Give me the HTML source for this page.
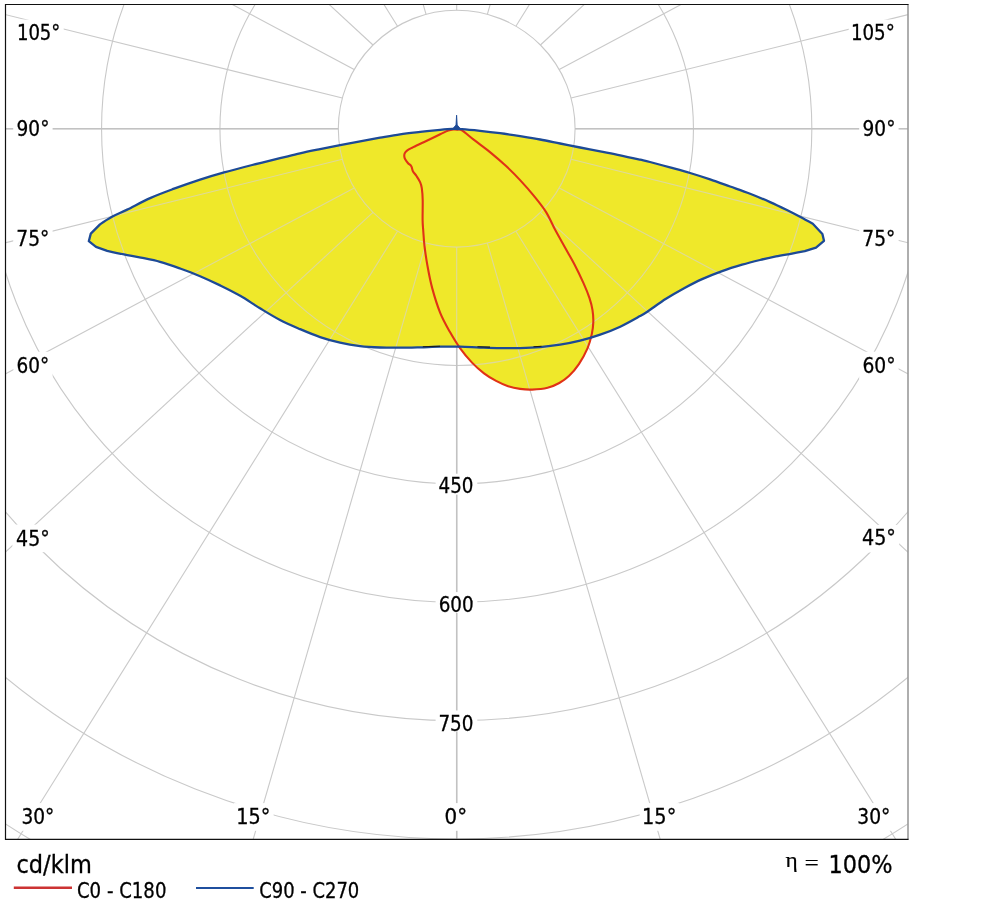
<!DOCTYPE html>
<html><head><meta charset="utf-8"><title>Polar diagram</title>
<style>
html,body{margin:0;padding:0;background:#fff;}
svg{display:block;}
text{font-family:"DejaVu Sans Condensed","DejaVu Sans","Liberation Sans",sans-serif;fill:#000;stroke:#000;stroke-width:0.28px;}
</style></head><body>
<svg width="999" height="912" viewBox="0 0 999 912">
<defs>
<clipPath id="frame"><rect x="5.5" y="4.5" width="902.5" height="834.8"/></clipPath>
<clipPath id="fillclip"><path d="M462.00,129.10C466.63,129.42 473.67,130.12 480.00,130.80C486.33,131.48 493.32,132.30 500.00,133.20C506.68,134.10 513.42,135.15 520.10,136.20C526.78,137.25 533.43,138.28 540.10,139.50C546.77,140.72 553.43,142.17 560.10,143.50C566.77,144.83 573.42,146.18 580.10,147.50C586.78,148.82 593.52,150.10 600.20,151.40C606.88,152.70 613.53,153.92 620.20,155.30C626.87,156.68 635.23,158.58 640.20,159.70C645.17,160.82 645.03,160.72 650.00,162.00C654.97,163.28 663.32,165.57 670.00,167.40C676.68,169.23 683.42,171.00 690.10,173.00C696.78,175.00 703.43,177.15 710.10,179.40C716.77,181.65 723.43,184.12 730.10,186.50C736.77,188.88 743.43,191.10 750.10,193.70C756.77,196.30 764.05,199.42 770.10,202.10C776.15,204.78 781.42,207.35 786.40,209.80C791.38,212.25 795.60,214.47 800.00,216.80C804.40,219.13 812.80,223.80 812.80,223.80C812.80,223.80 822.40,234.00 822.40,234.00C822.40,234.00 824.00,240.80 824.00,240.80C824.00,240.80 816.00,247.60 816.00,247.60C816.00,247.60 804.80,251.20 804.80,251.20C804.80,251.20 796.80,252.73 792.00,253.60C787.20,254.47 781.33,255.33 776.00,256.40C770.67,257.47 765.65,258.62 760.00,260.00C754.35,261.38 748.42,262.85 742.10,264.70C735.78,266.55 728.77,268.70 722.10,271.10C715.43,273.50 708.43,276.25 702.10,279.10C695.77,281.95 690.12,284.92 684.10,288.20C678.08,291.48 672.02,294.97 666.00,298.80C659.98,302.63 652.33,308.32 648.00,311.20C643.67,314.08 644.63,313.52 640.00,316.10C635.37,318.68 626.83,323.60 620.20,326.70C613.57,329.80 606.88,332.37 600.20,334.70C593.52,337.03 586.78,339.03 580.10,340.70C573.42,342.37 566.77,343.63 560.10,344.70C553.43,345.77 546.77,346.53 540.10,347.10C533.43,347.67 526.77,347.93 520.10,348.10C513.43,348.27 506.78,348.20 500.10,348.10C493.42,348.00 486.68,347.73 480.00,347.50C473.32,347.27 466.63,346.83 460.00,346.70C453.37,346.57 446.83,346.60 440.20,346.70C433.57,346.80 426.88,347.13 420.20,347.30C413.52,347.47 406.78,347.67 400.10,347.70C393.42,347.73 386.77,347.77 380.10,347.50C373.43,347.23 366.77,346.90 360.10,346.10C353.43,345.30 346.77,344.20 340.10,342.70C333.43,341.20 326.78,339.37 320.10,337.10C313.42,334.83 306.68,331.95 300.00,329.10C293.32,326.25 286.67,323.47 280.00,320.00C273.33,316.53 266.63,312.33 260.00,308.30C253.37,304.27 246.85,299.62 240.20,295.80C233.55,291.98 226.78,288.67 220.10,285.40C213.42,282.13 206.77,279.02 200.10,276.20C193.43,273.38 186.78,270.90 180.10,268.50C173.42,266.10 166.55,263.62 160.00,261.80C153.45,259.98 146.80,258.83 140.80,257.60C134.80,256.37 129.60,255.53 124.00,254.40C118.40,253.27 107.20,250.80 107.20,250.80C107.20,250.80 96.00,246.80 96.00,246.80C96.00,246.80 88.80,241.20 88.80,241.20C88.80,241.20 90.80,233.60 90.80,233.60C90.80,233.60 100.00,224.40 100.00,224.40C100.00,224.40 107.47,219.27 112.00,216.80C116.53,214.33 120.85,212.72 127.20,209.60C133.55,206.48 142.28,201.58 150.10,198.10C157.92,194.62 165.77,191.78 174.10,188.70C182.43,185.62 191.77,182.32 200.10,179.60C208.43,176.88 215.42,174.83 224.10,172.40C232.78,169.97 242.88,167.37 252.20,165.00C261.52,162.63 272.03,160.15 280.00,158.20C287.97,156.25 293.32,154.82 300.00,153.30C306.68,151.78 313.42,150.45 320.10,149.10C326.78,147.75 333.43,146.50 340.10,145.20C346.77,143.90 353.43,142.55 360.10,141.30C366.77,140.05 373.43,138.87 380.10,137.70C386.77,136.53 393.42,135.27 400.10,134.30C406.78,133.33 413.52,132.65 420.20,131.90C426.88,131.15 434.87,130.30 440.20,129.80C445.53,129.30 448.57,129.02 452.20,128.90C455.83,128.78 457.37,128.78 462.00,129.10Z"/><path d="M457.50,129.60C458.98,129.78 459.65,128.88 462.40,130.60C465.15,132.32 469.40,136.32 474.00,139.90C478.60,143.48 484.65,147.73 490.00,152.10C495.35,156.47 501.08,161.43 506.10,166.10C511.12,170.77 515.43,175.10 520.10,180.10C524.77,185.10 529.77,190.77 534.10,196.10C538.43,201.43 542.57,206.43 546.10,212.10C549.63,217.77 552.15,224.20 555.30,230.10C558.45,236.00 561.80,241.77 565.00,247.50C568.20,253.23 571.42,258.57 574.50,264.50C577.58,270.43 581.00,277.50 583.50,283.10C586.00,288.70 588.00,293.60 589.50,298.10C591.00,302.60 591.87,306.10 592.50,310.10C593.13,314.10 593.42,318.10 593.30,322.10C593.18,326.10 592.75,329.77 591.80,334.10C590.85,338.43 589.75,343.10 587.60,348.10C585.45,353.10 582.02,359.43 578.90,364.10C575.78,368.77 572.17,372.95 568.90,376.10C565.63,379.25 562.85,381.05 559.30,383.00C555.75,384.95 552.13,386.70 547.60,387.80C543.07,388.90 536.68,389.42 532.10,389.60C527.52,389.78 524.10,389.47 520.10,388.90C516.10,388.33 512.10,387.53 508.10,386.20C504.10,384.87 500.12,383.05 496.10,380.90C492.08,378.75 488.02,376.35 484.00,373.30C479.98,370.25 476.00,366.80 472.00,362.60C468.00,358.40 463.67,353.18 460.00,348.10C456.33,343.02 453.30,337.98 450.00,332.10C446.70,326.22 443.17,320.13 440.20,312.80C437.23,305.47 434.32,295.90 432.20,288.10C430.08,280.30 428.78,273.02 427.50,266.00C426.22,258.98 425.22,252.00 424.50,246.00C423.78,240.00 423.52,234.32 423.20,230.00C422.88,225.68 422.68,225.08 422.60,220.10C422.52,215.12 422.83,205.43 422.70,200.10C422.57,194.77 422.23,191.10 421.80,188.10C421.37,185.10 420.98,184.12 420.10,182.10C419.22,180.08 417.70,177.82 416.50,176.00C415.30,174.18 413.77,172.83 412.90,171.20C412.03,169.57 412.10,167.53 411.30,166.20C410.50,164.87 409.12,164.37 408.10,163.20C407.08,162.03 405.83,160.35 405.20,159.20C404.57,158.05 404.38,157.27 404.30,156.30C404.22,155.33 404.25,154.35 404.70,153.40C405.15,152.45 405.75,151.55 407.00,150.60C408.25,149.65 409.33,149.13 412.20,147.70C415.07,146.27 419.53,144.23 424.20,142.00C428.87,139.77 436.18,136.20 440.20,134.30C444.22,132.40 446.08,131.40 448.30,130.60C450.52,129.80 451.97,129.67 453.50,129.50C455.03,129.33 456.02,129.42 457.50,129.60Z"/></clipPath>
<g id="grid" fill="none" stroke-width="1.1">
<circle cx="456.70" cy="128.70" r="118.38"/>
<circle cx="456.70" cy="128.70" r="236.76"/>
<circle cx="456.70" cy="128.70" r="355.14"/>
<circle cx="456.70" cy="128.70" r="473.52"/>
<circle cx="456.70" cy="128.70" r="591.90"/>
<circle cx="456.70" cy="128.70" r="710.28"/>
<circle cx="456.70" cy="128.70" r="828.66"/>
<line x1="456.70" y1="247.08" x2="456.70" y2="1247.08"/>
<line x1="487.34" y1="243.05" x2="767.38" y2="1208.97"/>
<line x1="515.89" y1="231.22" x2="1056.89" y2="1097.25"/>
<line x1="540.41" y1="212.41" x2="1305.50" y2="919.51"/>
<line x1="559.22" y1="187.89" x2="1496.26" y2="687.89"/>
<line x1="571.05" y1="159.34" x2="1616.18" y2="418.16"/>
<line x1="575.08" y1="128.70" x2="1657.08" y2="128.70"/>
<line x1="571.05" y1="98.06" x2="1616.18" y2="-160.76"/>
<line x1="559.22" y1="69.51" x2="1496.26" y2="-430.49"/>
<line x1="540.41" y1="44.99" x2="1305.50" y2="-662.11"/>
<line x1="515.89" y1="26.18" x2="1056.89" y2="-839.85"/>
<line x1="487.34" y1="14.35" x2="767.38" y2="-951.57"/>
<line x1="456.70" y1="10.32" x2="456.70" y2="-989.68"/>
<line x1="426.06" y1="14.35" x2="146.02" y2="-951.57"/>
<line x1="397.51" y1="26.18" x2="-143.49" y2="-839.85"/>
<line x1="372.99" y1="44.99" x2="-392.10" y2="-662.11"/>
<line x1="354.18" y1="69.51" x2="-582.86" y2="-430.49"/>
<line x1="342.35" y1="98.06" x2="-702.78" y2="-160.76"/>
<line x1="338.32" y1="128.70" x2="-743.68" y2="128.70"/>
<line x1="342.35" y1="159.34" x2="-702.78" y2="418.16"/>
<line x1="354.18" y1="187.89" x2="-582.86" y2="687.89"/>
<line x1="372.99" y1="212.41" x2="-392.10" y2="919.51"/>
<line x1="397.51" y1="231.22" x2="-143.49" y2="1097.25"/>
<line x1="426.06" y1="243.05" x2="146.02" y2="1208.97"/>
</g>
</defs>
<rect width="999" height="912" fill="#fff"/>
<g clip-path="url(#frame)">
<use href="#grid" stroke="#c9c9c9"/>
<g fill="none" stroke="#c2c2c2" stroke-width="1.5"><line x1="456.70" y1="247.08" x2="456.70" y2="1247.08"/>
<line x1="575.08" y1="128.70" x2="1657.08" y2="128.70"/>
<line x1="338.32" y1="128.70" x2="-743.68" y2="128.70"/></g>
<path d="M462.00,129.10C466.63,129.42 473.67,130.12 480.00,130.80C486.33,131.48 493.32,132.30 500.00,133.20C506.68,134.10 513.42,135.15 520.10,136.20C526.78,137.25 533.43,138.28 540.10,139.50C546.77,140.72 553.43,142.17 560.10,143.50C566.77,144.83 573.42,146.18 580.10,147.50C586.78,148.82 593.52,150.10 600.20,151.40C606.88,152.70 613.53,153.92 620.20,155.30C626.87,156.68 635.23,158.58 640.20,159.70C645.17,160.82 645.03,160.72 650.00,162.00C654.97,163.28 663.32,165.57 670.00,167.40C676.68,169.23 683.42,171.00 690.10,173.00C696.78,175.00 703.43,177.15 710.10,179.40C716.77,181.65 723.43,184.12 730.10,186.50C736.77,188.88 743.43,191.10 750.10,193.70C756.77,196.30 764.05,199.42 770.10,202.10C776.15,204.78 781.42,207.35 786.40,209.80C791.38,212.25 795.60,214.47 800.00,216.80C804.40,219.13 812.80,223.80 812.80,223.80C812.80,223.80 822.40,234.00 822.40,234.00C822.40,234.00 824.00,240.80 824.00,240.80C824.00,240.80 816.00,247.60 816.00,247.60C816.00,247.60 804.80,251.20 804.80,251.20C804.80,251.20 796.80,252.73 792.00,253.60C787.20,254.47 781.33,255.33 776.00,256.40C770.67,257.47 765.65,258.62 760.00,260.00C754.35,261.38 748.42,262.85 742.10,264.70C735.78,266.55 728.77,268.70 722.10,271.10C715.43,273.50 708.43,276.25 702.10,279.10C695.77,281.95 690.12,284.92 684.10,288.20C678.08,291.48 672.02,294.97 666.00,298.80C659.98,302.63 652.33,308.32 648.00,311.20C643.67,314.08 644.63,313.52 640.00,316.10C635.37,318.68 626.83,323.60 620.20,326.70C613.57,329.80 606.88,332.37 600.20,334.70C593.52,337.03 586.78,339.03 580.10,340.70C573.42,342.37 566.77,343.63 560.10,344.70C553.43,345.77 546.77,346.53 540.10,347.10C533.43,347.67 526.77,347.93 520.10,348.10C513.43,348.27 506.78,348.20 500.10,348.10C493.42,348.00 486.68,347.73 480.00,347.50C473.32,347.27 466.63,346.83 460.00,346.70C453.37,346.57 446.83,346.60 440.20,346.70C433.57,346.80 426.88,347.13 420.20,347.30C413.52,347.47 406.78,347.67 400.10,347.70C393.42,347.73 386.77,347.77 380.10,347.50C373.43,347.23 366.77,346.90 360.10,346.10C353.43,345.30 346.77,344.20 340.10,342.70C333.43,341.20 326.78,339.37 320.10,337.10C313.42,334.83 306.68,331.95 300.00,329.10C293.32,326.25 286.67,323.47 280.00,320.00C273.33,316.53 266.63,312.33 260.00,308.30C253.37,304.27 246.85,299.62 240.20,295.80C233.55,291.98 226.78,288.67 220.10,285.40C213.42,282.13 206.77,279.02 200.10,276.20C193.43,273.38 186.78,270.90 180.10,268.50C173.42,266.10 166.55,263.62 160.00,261.80C153.45,259.98 146.80,258.83 140.80,257.60C134.80,256.37 129.60,255.53 124.00,254.40C118.40,253.27 107.20,250.80 107.20,250.80C107.20,250.80 96.00,246.80 96.00,246.80C96.00,246.80 88.80,241.20 88.80,241.20C88.80,241.20 90.80,233.60 90.80,233.60C90.80,233.60 100.00,224.40 100.00,224.40C100.00,224.40 107.47,219.27 112.00,216.80C116.53,214.33 120.85,212.72 127.20,209.60C133.55,206.48 142.28,201.58 150.10,198.10C157.92,194.62 165.77,191.78 174.10,188.70C182.43,185.62 191.77,182.32 200.10,179.60C208.43,176.88 215.42,174.83 224.10,172.40C232.78,169.97 242.88,167.37 252.20,165.00C261.52,162.63 272.03,160.15 280.00,158.20C287.97,156.25 293.32,154.82 300.00,153.30C306.68,151.78 313.42,150.45 320.10,149.10C326.78,147.75 333.43,146.50 340.10,145.20C346.77,143.90 353.43,142.55 360.10,141.30C366.77,140.05 373.43,138.87 380.10,137.70C386.77,136.53 393.42,135.27 400.10,134.30C406.78,133.33 413.52,132.65 420.20,131.90C426.88,131.15 434.87,130.30 440.20,129.80C445.53,129.30 448.57,129.02 452.20,128.90C455.83,128.78 457.37,128.78 462.00,129.10Z" fill="#efe82a"/>
<path d="M457.50,129.60C458.98,129.78 459.65,128.88 462.40,130.60C465.15,132.32 469.40,136.32 474.00,139.90C478.60,143.48 484.65,147.73 490.00,152.10C495.35,156.47 501.08,161.43 506.10,166.10C511.12,170.77 515.43,175.10 520.10,180.10C524.77,185.10 529.77,190.77 534.10,196.10C538.43,201.43 542.57,206.43 546.10,212.10C549.63,217.77 552.15,224.20 555.30,230.10C558.45,236.00 561.80,241.77 565.00,247.50C568.20,253.23 571.42,258.57 574.50,264.50C577.58,270.43 581.00,277.50 583.50,283.10C586.00,288.70 588.00,293.60 589.50,298.10C591.00,302.60 591.87,306.10 592.50,310.10C593.13,314.10 593.42,318.10 593.30,322.10C593.18,326.10 592.75,329.77 591.80,334.10C590.85,338.43 589.75,343.10 587.60,348.10C585.45,353.10 582.02,359.43 578.90,364.10C575.78,368.77 572.17,372.95 568.90,376.10C565.63,379.25 562.85,381.05 559.30,383.00C555.75,384.95 552.13,386.70 547.60,387.80C543.07,388.90 536.68,389.42 532.10,389.60C527.52,389.78 524.10,389.47 520.10,388.90C516.10,388.33 512.10,387.53 508.10,386.20C504.10,384.87 500.12,383.05 496.10,380.90C492.08,378.75 488.02,376.35 484.00,373.30C479.98,370.25 476.00,366.80 472.00,362.60C468.00,358.40 463.67,353.18 460.00,348.10C456.33,343.02 453.30,337.98 450.00,332.10C446.70,326.22 443.17,320.13 440.20,312.80C437.23,305.47 434.32,295.90 432.20,288.10C430.08,280.30 428.78,273.02 427.50,266.00C426.22,258.98 425.22,252.00 424.50,246.00C423.78,240.00 423.52,234.32 423.20,230.00C422.88,225.68 422.68,225.08 422.60,220.10C422.52,215.12 422.83,205.43 422.70,200.10C422.57,194.77 422.23,191.10 421.80,188.10C421.37,185.10 420.98,184.12 420.10,182.10C419.22,180.08 417.70,177.82 416.50,176.00C415.30,174.18 413.77,172.83 412.90,171.20C412.03,169.57 412.10,167.53 411.30,166.20C410.50,164.87 409.12,164.37 408.10,163.20C407.08,162.03 405.83,160.35 405.20,159.20C404.57,158.05 404.38,157.27 404.30,156.30C404.22,155.33 404.25,154.35 404.70,153.40C405.15,152.45 405.75,151.55 407.00,150.60C408.25,149.65 409.33,149.13 412.20,147.70C415.07,146.27 419.53,144.23 424.20,142.00C428.87,139.77 436.18,136.20 440.20,134.30C444.22,132.40 446.08,131.40 448.30,130.60C450.52,129.80 451.97,129.67 453.50,129.50C455.03,129.33 456.02,129.42 457.50,129.60Z" fill="#efe82a"/>
<g clip-path="url(#fillclip)"><use href="#grid" stroke="#dedA98" stroke-width="1.7"/></g>
<g fill="#fff">
<rect x="14.3" y="19.6" width="49.4" height="27.2"/>
<rect x="13.2" y="115.3" width="39.4" height="27.6"/>
<rect x="13.2" y="224.8" width="39.4" height="27.6"/>
<rect x="13.4" y="351.7" width="39.2" height="27.7"/>
<rect x="12.4" y="524.6" width="40.5" height="27.6"/>
<rect x="18.3" y="803.1" width="39.3" height="27.7"/>
<rect x="233.9" y="803.1" width="39.7" height="27.7"/>
<rect x="441.6" y="803.1" width="28.7" height="27.7"/>
<rect x="639.7" y="803.1" width="39.8" height="27.7"/>
<rect x="854.4" y="803.1" width="39.3" height="27.7"/>
<rect x="848.7" y="19.6" width="49.4" height="27.2"/>
<rect x="859.2" y="115.1" width="39.4" height="27.6"/>
<rect x="859.2" y="224.8" width="39.4" height="27.6"/>
<rect x="859.2" y="351.7" width="39.4" height="27.7"/>
<rect x="858.7" y="524.9" width="40.5" height="27.6"/>
<rect x="435.6" y="473.7" width="41.7" height="20.9"/>
<rect x="435.6" y="592.1" width="41.7" height="20.9"/>
<rect x="435.6" y="710.5" width="41.7" height="20.9"/>
</g>
<path d="M457.50,129.60C458.98,129.78 459.65,128.88 462.40,130.60C465.15,132.32 469.40,136.32 474.00,139.90C478.60,143.48 484.65,147.73 490.00,152.10C495.35,156.47 501.08,161.43 506.10,166.10C511.12,170.77 515.43,175.10 520.10,180.10C524.77,185.10 529.77,190.77 534.10,196.10C538.43,201.43 542.57,206.43 546.10,212.10C549.63,217.77 552.15,224.20 555.30,230.10C558.45,236.00 561.80,241.77 565.00,247.50C568.20,253.23 571.42,258.57 574.50,264.50C577.58,270.43 581.00,277.50 583.50,283.10C586.00,288.70 588.00,293.60 589.50,298.10C591.00,302.60 591.87,306.10 592.50,310.10C593.13,314.10 593.42,318.10 593.30,322.10C593.18,326.10 592.75,329.77 591.80,334.10C590.85,338.43 589.75,343.10 587.60,348.10C585.45,353.10 582.02,359.43 578.90,364.10C575.78,368.77 572.17,372.95 568.90,376.10C565.63,379.25 562.85,381.05 559.30,383.00C555.75,384.95 552.13,386.70 547.60,387.80C543.07,388.90 536.68,389.42 532.10,389.60C527.52,389.78 524.10,389.47 520.10,388.90C516.10,388.33 512.10,387.53 508.10,386.20C504.10,384.87 500.12,383.05 496.10,380.90C492.08,378.75 488.02,376.35 484.00,373.30C479.98,370.25 476.00,366.80 472.00,362.60C468.00,358.40 463.67,353.18 460.00,348.10C456.33,343.02 453.30,337.98 450.00,332.10C446.70,326.22 443.17,320.13 440.20,312.80C437.23,305.47 434.32,295.90 432.20,288.10C430.08,280.30 428.78,273.02 427.50,266.00C426.22,258.98 425.22,252.00 424.50,246.00C423.78,240.00 423.52,234.32 423.20,230.00C422.88,225.68 422.68,225.08 422.60,220.10C422.52,215.12 422.83,205.43 422.70,200.10C422.57,194.77 422.23,191.10 421.80,188.10C421.37,185.10 420.98,184.12 420.10,182.10C419.22,180.08 417.70,177.82 416.50,176.00C415.30,174.18 413.77,172.83 412.90,171.20C412.03,169.57 412.10,167.53 411.30,166.20C410.50,164.87 409.12,164.37 408.10,163.20C407.08,162.03 405.83,160.35 405.20,159.20C404.57,158.05 404.38,157.27 404.30,156.30C404.22,155.33 404.25,154.35 404.70,153.40C405.15,152.45 405.75,151.55 407.00,150.60C408.25,149.65 409.33,149.13 412.20,147.70C415.07,146.27 419.53,144.23 424.20,142.00C428.87,139.77 436.18,136.20 440.20,134.30C444.22,132.40 446.08,131.40 448.30,130.60C450.52,129.80 451.97,129.67 453.50,129.50C455.03,129.33 456.02,129.42 457.50,129.60Z" fill="none" stroke="#e03216" stroke-width="2.1" stroke-linejoin="round"/>
<path d="M462.00,129.10C466.63,129.42 473.67,130.12 480.00,130.80C486.33,131.48 493.32,132.30 500.00,133.20C506.68,134.10 513.42,135.15 520.10,136.20C526.78,137.25 533.43,138.28 540.10,139.50C546.77,140.72 553.43,142.17 560.10,143.50C566.77,144.83 573.42,146.18 580.10,147.50C586.78,148.82 593.52,150.10 600.20,151.40C606.88,152.70 613.53,153.92 620.20,155.30C626.87,156.68 635.23,158.58 640.20,159.70C645.17,160.82 645.03,160.72 650.00,162.00C654.97,163.28 663.32,165.57 670.00,167.40C676.68,169.23 683.42,171.00 690.10,173.00C696.78,175.00 703.43,177.15 710.10,179.40C716.77,181.65 723.43,184.12 730.10,186.50C736.77,188.88 743.43,191.10 750.10,193.70C756.77,196.30 764.05,199.42 770.10,202.10C776.15,204.78 781.42,207.35 786.40,209.80C791.38,212.25 795.60,214.47 800.00,216.80C804.40,219.13 812.80,223.80 812.80,223.80C812.80,223.80 822.40,234.00 822.40,234.00C822.40,234.00 824.00,240.80 824.00,240.80C824.00,240.80 816.00,247.60 816.00,247.60C816.00,247.60 804.80,251.20 804.80,251.20C804.80,251.20 796.80,252.73 792.00,253.60C787.20,254.47 781.33,255.33 776.00,256.40C770.67,257.47 765.65,258.62 760.00,260.00C754.35,261.38 748.42,262.85 742.10,264.70C735.78,266.55 728.77,268.70 722.10,271.10C715.43,273.50 708.43,276.25 702.10,279.10C695.77,281.95 690.12,284.92 684.10,288.20C678.08,291.48 672.02,294.97 666.00,298.80C659.98,302.63 652.33,308.32 648.00,311.20C643.67,314.08 644.63,313.52 640.00,316.10C635.37,318.68 626.83,323.60 620.20,326.70C613.57,329.80 606.88,332.37 600.20,334.70C593.52,337.03 586.78,339.03 580.10,340.70C573.42,342.37 566.77,343.63 560.10,344.70C553.43,345.77 546.77,346.53 540.10,347.10C533.43,347.67 526.77,347.93 520.10,348.10C513.43,348.27 506.78,348.20 500.10,348.10C493.42,348.00 486.68,347.73 480.00,347.50C473.32,347.27 466.63,346.83 460.00,346.70C453.37,346.57 446.83,346.60 440.20,346.70C433.57,346.80 426.88,347.13 420.20,347.30C413.52,347.47 406.78,347.67 400.10,347.70C393.42,347.73 386.77,347.77 380.10,347.50C373.43,347.23 366.77,346.90 360.10,346.10C353.43,345.30 346.77,344.20 340.10,342.70C333.43,341.20 326.78,339.37 320.10,337.10C313.42,334.83 306.68,331.95 300.00,329.10C293.32,326.25 286.67,323.47 280.00,320.00C273.33,316.53 266.63,312.33 260.00,308.30C253.37,304.27 246.85,299.62 240.20,295.80C233.55,291.98 226.78,288.67 220.10,285.40C213.42,282.13 206.77,279.02 200.10,276.20C193.43,273.38 186.78,270.90 180.10,268.50C173.42,266.10 166.55,263.62 160.00,261.80C153.45,259.98 146.80,258.83 140.80,257.60C134.80,256.37 129.60,255.53 124.00,254.40C118.40,253.27 107.20,250.80 107.20,250.80C107.20,250.80 96.00,246.80 96.00,246.80C96.00,246.80 88.80,241.20 88.80,241.20C88.80,241.20 90.80,233.60 90.80,233.60C90.80,233.60 100.00,224.40 100.00,224.40C100.00,224.40 107.47,219.27 112.00,216.80C116.53,214.33 120.85,212.72 127.20,209.60C133.55,206.48 142.28,201.58 150.10,198.10C157.92,194.62 165.77,191.78 174.10,188.70C182.43,185.62 191.77,182.32 200.10,179.60C208.43,176.88 215.42,174.83 224.10,172.40C232.78,169.97 242.88,167.37 252.20,165.00C261.52,162.63 272.03,160.15 280.00,158.20C287.97,156.25 293.32,154.82 300.00,153.30C306.68,151.78 313.42,150.45 320.10,149.10C326.78,147.75 333.43,146.50 340.10,145.20C346.77,143.90 353.43,142.55 360.10,141.30C366.77,140.05 373.43,138.87 380.10,137.70C386.77,136.53 393.42,135.27 400.10,134.30C406.78,133.33 413.52,132.65 420.20,131.90C426.88,131.15 434.87,130.30 440.20,129.80C445.53,129.30 448.57,129.02 452.20,128.90C455.83,128.78 457.37,128.78 462.00,129.10Z" fill="none" stroke="#1d4a96" stroke-width="2.3" stroke-linejoin="round"/>
<path d="M422.8,346.7L440,346.2M477.5,346.7L490,347.1M533.5,346.8L541.5,346.3" fill="none" stroke="#1a1a1a" stroke-width="1.1"/>
<path d="M456.6,115.2L457.2,125 460.3,128.6 452.9,128.6 456,125Z" fill="#1d4a96" stroke="#1d4a96" stroke-width="0.9"/>
</g>
<g fill="none">
<line x1="908.0" y1="4.5" x2="908.0" y2="839.3" stroke="#9a9a9a" stroke-width="1.6"/>
<path d="M908.6,4.5H5.5V839.3H908.6" stroke="#111" stroke-width="1.2"/>
</g>
<g font-size="20.5">
<text x="16.9" y="40.1" textLength="43.5" lengthAdjust="spacingAndGlyphs">105°</text>
<text x="16.6" y="136.0" textLength="32.8" lengthAdjust="spacingAndGlyphs">90°</text>
<text x="16.3" y="245.5" textLength="33.0" lengthAdjust="spacingAndGlyphs">75°</text>
<text x="16.6" y="372.5" textLength="32.7" lengthAdjust="spacingAndGlyphs">60°</text>
<text x="16.1" y="545.7" textLength="33.6" lengthAdjust="spacingAndGlyphs">45°</text>
<text x="21.5" y="824.1" textLength="32.9" lengthAdjust="spacingAndGlyphs">30°</text>
<text x="236.3" y="824.1" textLength="34.1" lengthAdjust="spacingAndGlyphs">15°</text>
<text x="444.6" y="824.2" textLength="22.5" lengthAdjust="spacingAndGlyphs">0°</text>
<text x="642.1" y="824.1" textLength="34.2" lengthAdjust="spacingAndGlyphs">15°</text>
<text x="857.3" y="824.1" textLength="33.1" lengthAdjust="spacingAndGlyphs">30°</text>
<text x="850.9" y="40.1" textLength="43.9" lengthAdjust="spacingAndGlyphs">105°</text>
<text x="862.6" y="136.2" textLength="32.8" lengthAdjust="spacingAndGlyphs">90°</text>
<text x="862.3" y="245.5" textLength="33.0" lengthAdjust="spacingAndGlyphs">75°</text>
<text x="862.4" y="372.5" textLength="33.1" lengthAdjust="spacingAndGlyphs">60°</text>
<text x="862.0" y="545.4" textLength="33.9" lengthAdjust="spacingAndGlyphs">45°</text>
<text x="438.6" y="493.4" textLength="34.9" lengthAdjust="spacingAndGlyphs">450</text>
<text x="438.7" y="612.0" textLength="35.0" lengthAdjust="spacingAndGlyphs">600</text>
<text x="438.4" y="730.6" textLength="35.0" lengthAdjust="spacingAndGlyphs">750</text>
</g>
<g font-size="24"><text x="16.5" y="872.9" textLength="75.3" lengthAdjust="spacingAndGlyphs">cd/klm</text>
<text x="828.5" y="872.5" textLength="64" lengthAdjust="spacingAndGlyphs">100%</text></g>
<text x="785.4" y="867.2" font-size="22" textLength="12.2" lengthAdjust="spacingAndGlyphs" style="font-family:'Liberation Serif','DejaVu Serif',serif;stroke-width:0.2px">η</text>
<text x="804.6" y="869.6" font-size="22" textLength="14.4" lengthAdjust="spacingAndGlyphs" style="font-family:'Liberation Serif','DejaVu Serif',serif;stroke-width:0.1px">=</text>
<line x1="13.8" y1="887.8" x2="72" y2="887.8" stroke="#cc3333" stroke-width="2.4"/>
<line x1="196" y1="888" x2="253.7" y2="888" stroke="#1f4f9e" stroke-width="2.2"/>
<g font-size="20.5"><text x="76.95" y="898" textLength="89.5" lengthAdjust="spacingAndGlyphs">C0 - C180</text>
<text x="259.2" y="898" textLength="100.1" lengthAdjust="spacingAndGlyphs">C90 - C270</text></g>
</svg>
</body></html>
